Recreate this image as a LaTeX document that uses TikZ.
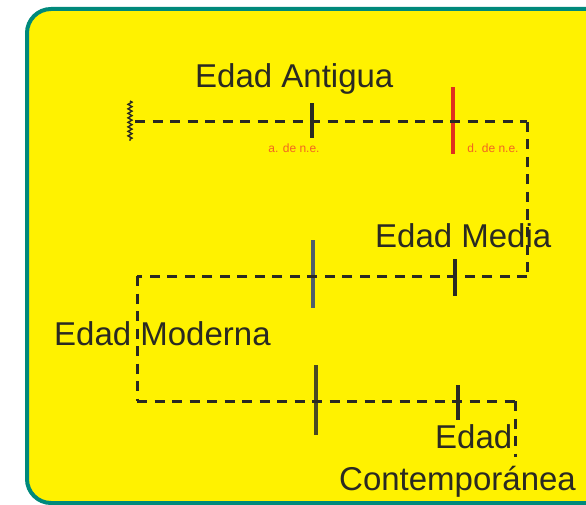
\documentclass[tikz,border=0pt]{standalone}
\usepackage{fontspec}
\setmainfont{Liberation Sans}
\usetikzlibrary{graphs,positioning,decorations.pathmorphing}
\definecolor{fondo}{HTML}{FFF200}
\definecolor{marco}{HTML}{00897B}
\definecolor{tinta}{HTML}{2A2A22}
\definecolor{rojo}{HTML}{E0301E}
\definecolor{naranja}{HTML}{F26522}
\definecolor{gris}{HTML}{4F5E6C}
\definecolor{oliva}{HTML}{4A4A22}

\begin{document}
\begin{tikzpicture}[
x=1pt, y=-1pt,
tinta,
text=tinta,
rail/.style={%
    line width=3pt,
    dash pattern=on 10pt off 7.5pt,
},
era/.style={%
    font=\fontsize{33}{36}\selectfont,
    inner sep=0pt,
    anchor=base west,
},
nota/.style={%
    font=\fontsize{12}{13}\selectfont,
    text=naranja,
    inner sep=0pt,
},
marca/.style={%
    rectangle, inner sep=0pt, minimum width=3.2pt,
    minimum height=#1, fill=tinta,
},
]
\useasboundingbox (0,0) rectangle (586,505);
% Frame
\draw[marco, line width=4pt, fill=fondo, rounded corners=24pt] (27,9) rectangle (612,503);

% Nodes
\coordinate (antstart)  at (135,122);
\coordinate (antend)    at (527,122);
\coordinate (medend)    at (527,276);
\coordinate (medstart)  at (137,276);
\coordinate (modstart)  at (137,401);
\coordinate (modend)    at (515,401);
\coordinate (conend)    at (515,457);
\coordinate (wavetop)   at (130,101);
\coordinate (wavebot)   at (130,141);

\node[marca=35pt]               at (312,121) (antmid)  {};
\node[marca=67pt, fill=rojo]    at (453,121) (antfin)  {};
\node[marca=68pt, fill=gris]    at (313,274) (medini)  {};
\node[marca=37pt]               at (455,277) (medfin)  {};
\node[marca=70pt, fill=oliva]   at (316,400) (modfin)  {};
\node[marca=35pt]               at (458,402) (confin)  {};

\node[nota] at (294,148) (antes)   {a. de n.e.};
\node[nota] at (493,148) (despues) {d. de n.e.};

\node[era] at (195,88)  (antigua)  {Edad Antigua};
\node[era] at (375,247) (media)    {Edad Media};
\node[era] at (54,345)  (moderna)  {Edad Moderna};
\node[era] at (435,448) (contemp1) {Edad};
\node[era] at (339,490) (contemp2) {Contemporánea};

% Lines
\draw[line width=1.4pt, decorate,
      decoration={zigzag, amplitude=2pt, segment length=4.5pt}] (wavetop) -- (wavebot);
\graph [use existing nodes, edges={rail}] {
    antstart -- antend -- medend -- medstart -- modstart -- modend -- conend;
};
\end{tikzpicture}
\end{document}
